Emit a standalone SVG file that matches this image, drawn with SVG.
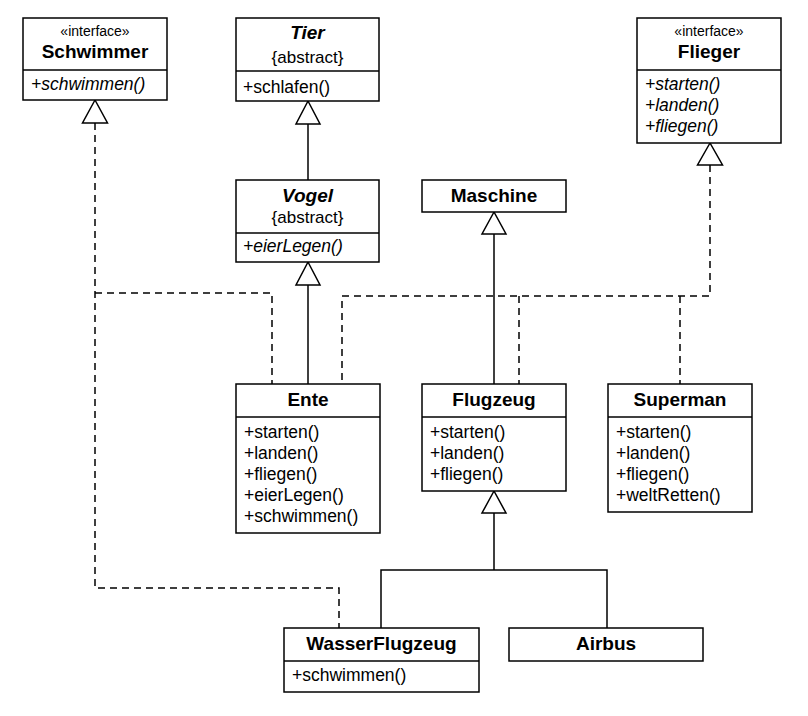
<svg xmlns="http://www.w3.org/2000/svg" width="808" height="716" viewBox="0 0 808 716">
<style>
.box{fill:#fff;stroke:#000;stroke-width:1.5}
.div{stroke:#000;stroke-width:1.5}
.t{font-family:"Liberation Sans",Arial,sans-serif;fill:#000}
.title{font-size:19px;font-weight:bold;text-anchor:middle}
.abs{font-size:19px;font-weight:bold;font-style:italic;text-anchor:middle}
.ster{font-size:14px;text-anchor:middle}
.prop{font-size:17px;text-anchor:middle}
.m{font-size:17.5px}
.mi{font-size:17.5px;font-style:italic}
.solid{fill:none;stroke:#000;stroke-width:1.5}
.dash{fill:none;stroke:#000;stroke-width:1.5;stroke-dasharray:7,5}
.tri{fill:#fff;stroke:#000;stroke-width:1.5}
</style>
<rect width="808" height="716" fill="#fff"/>
<g id="connectors">
<path class="dash" d="M95,123 V588 H339 V628"/>
<path class="dash" d="M95,293 H272 V384"/>
<path class="dash" d="M710,165 V296 H342 V384"/>
<path class="dash" d="M519,296 V384"/>
<path class="dash" d="M680,296 V384"/>
<path class="solid" d="M308,124 V180"/>
<path class="solid" d="M308,285 V384"/>
<path class="solid" d="M494,234 V384"/>
<path class="solid" d="M494,513 V570 M381,628 V570 H607 V628"/>
<polygon class="tri" points="95,100 82.5,123 107.5,123"/>
<polygon class="tri" points="308,101 296,124 320,124"/>
<polygon class="tri" points="308,262 296,285 320,285"/>
<polygon class="tri" points="710,143 697.5,165 722.5,165"/>
<polygon class="tri" points="494,212 482,234 506,234"/>
<polygon class="tri" points="494,491 482,513 506,513"/>
</g>
<g id="Schwimmer">
<rect class="box" x="23" y="18" width="144" height="82"/>
<line class="div" x1="23" y1="70" x2="167" y2="70"/>
<text class="t ster" x="95" y="36">«interface»</text>
<text class="t title" x="95" y="58">Schwimmer</text>
<text class="t mi" x="31" y="90">+schwimmen()</text>
</g>
<g id="Tier">
<rect class="box" x="236" y="18" width="143" height="83"/>
<line class="div" x1="236" y1="71" x2="379" y2="71"/>
<text class="t abs" x="307.5" y="39">Tier</text>
<text class="t prop" x="307.5" y="63">{abstract}</text>
<text class="t m" x="243" y="93">+schlafen()</text>
</g>
<g id="Vogel">
<rect class="box" x="236" y="180" width="143" height="82"/>
<line class="div" x1="236" y1="233" x2="379" y2="233"/>
<text class="t abs" x="307.5" y="202">Vogel</text>
<text class="t prop" x="307.5" y="223">{abstract}</text>
<text class="t mi" x="243" y="252">+eierLegen()</text>
</g>
<g id="Flieger">
<rect class="box" x="637" y="18" width="144" height="125"/>
<line class="div" x1="637" y1="70" x2="781" y2="70"/>
<text class="t ster" x="709" y="36">«interface»</text>
<text class="t title" x="709" y="58">Flieger</text>
<text class="t mi" x="645" y="90">+starten()</text>
<text class="t mi" x="645" y="111">+landen()</text>
<text class="t mi" x="645" y="132">+fliegen()</text>
</g>
<g id="Maschine">
<rect class="box" x="422" y="180" width="144" height="32"/>
<text class="t title" x="494" y="202">Maschine</text>
</g>
<g id="Ente">
<rect class="box" x="236" y="384" width="144" height="149"/>
<line class="div" x1="236" y1="417" x2="380" y2="417"/>
<text class="t title" x="308" y="406">Ente</text>
<text class="t m" x="244" y="438">+starten()</text>
<text class="t m" x="244" y="459">+landen()</text>
<text class="t m" x="244" y="480">+fliegen()</text>
<text class="t m" x="244" y="501">+eierLegen()</text>
<text class="t m" x="244" y="522">+schwimmen()</text>
</g>
<g id="Flugzeug">
<rect class="box" x="422" y="384" width="144" height="107"/>
<line class="div" x1="422" y1="417" x2="566" y2="417"/>
<text class="t title" x="494" y="406">Flugzeug</text>
<text class="t m" x="430" y="438">+starten()</text>
<text class="t m" x="430" y="459">+landen()</text>
<text class="t m" x="430" y="480">+fliegen()</text>
</g>
<g id="Superman">
<rect class="box" x="608" y="384" width="144" height="128"/>
<line class="div" x1="608" y1="417" x2="752" y2="417"/>
<text class="t title" x="680" y="406">Superman</text>
<text class="t m" x="616" y="438">+starten()</text>
<text class="t m" x="616" y="459">+landen()</text>
<text class="t m" x="616" y="480">+fliegen()</text>
<text class="t m" x="616" y="501">+weltRetten()</text>
</g>
<g id="WasserFlugzeug">
<rect class="box" x="284" y="628" width="195" height="64"/>
<line class="div" x1="284" y1="661" x2="479" y2="661"/>
<text class="t title" x="381.5" y="650">WasserFlugzeug</text>
<text class="t m" x="292" y="681">+schwimmen()</text>
</g>
<g id="Airbus">
<rect class="box" x="509" y="628" width="194" height="33"/>
<text class="t title" x="606" y="650">Airbus</text>
</g>
</svg>
